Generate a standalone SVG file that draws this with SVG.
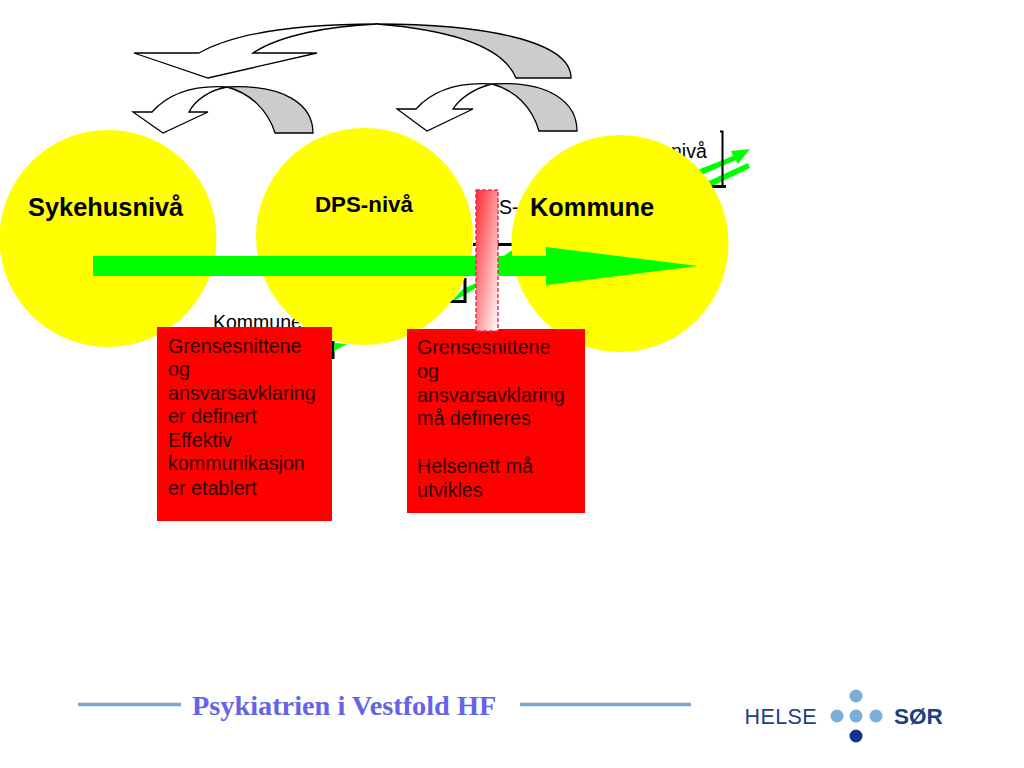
<svg xmlns="http://www.w3.org/2000/svg" width="1024" height="768" viewBox="0 0 1024 768">
<defs>
<linearGradient id="pillar" x1="0" y1="0" x2="1" y2="1"><stop offset="0" stop-color="#ff2a30"/><stop offset="1" stop-color="#ffffff"/></linearGradient>
</defs>
<style>
text{font-family:"Liberation Sans",Arial,sans-serif;fill:#000}
.circle{fill:#ff0}
.box{fill:#f00}
.white{fill:#fff;stroke:#000;stroke-width:1.300}
.grey{fill:#ccc;stroke:#000;stroke-width:1.300}
.green{fill:#0f0}
.title{font-size:25.400px;font-weight:bold}
.small{font-size:19.500px}
.body{font-size:19.700px;fill:#300}
.logo{fill:#7aaed6}
.bk{fill:none;stroke:#000;stroke-width:3}
</style>
<rect width="1024" height="768" fill="#fff"/>
<g id="connectors">
<path class="grey" d="M377 24C480 24 571 40 571 78H516C503 46 450 30 377 24Z"/>
<path class="white" d="M134 53H199C240 30 310 24 377 24C330 26 280 35 253 53H317L208 78Z"/>
<path class="grey" d="M227 87C285 84 313 105 313 133H275C268 110 250 93 227 87Z"/>
<path class="white" d="M133 112H152C170 92 195 85 227 87C210 90 195 100 189 112H208L163 133Z"/>
<path class="grey" d="M492 84C550 80 577 103 577 131H539C532 107 515 90 492 84Z"/>
<path class="white" d="M397 109H416C434 89 460 82 492 84C475 88 460 98 453 109H473L427 131Z"/>
</g>
<g id="hidden-labels">
<text class="small" x="671" y="158">nivå</text>
<path class="green" d="M690 173L733 156L731 151L750 149L738 164L736 160L692 179ZM700 185L748 163L750 168L704 190Z"/>
<path d="M720 131.500H722.500V186" fill="none" stroke="#000" stroke-width="2"/>
<path d="M708 186.500H726" class="bk"/>
<text class="small" x="486" y="214">PS-</text>
<path d="M473 244.500H514" class="bk"/>
<path class="green" d="M490 268L498 260L515 248V268ZM450 303L463 289L476 283V288L456 300Z"/>
<path d="M465 278V301.500H450" class="bk"/>
<text class="small" x="213" y="329">Kommune</text>
<path d="M333 341V359" class="bk"/>
<path class="green" d="M334 343L347 344L334 351Z"/>
</g>
<g id="node-sykehus"><circle class="circle" cx="108" cy="238.500" r="108.500"/><text class="title" x="28" y="216">Sykehusnivå</text></g>
<g id="node-dps"><circle class="circle" cx="364.500" cy="236.500" r="108.500"/><text x="315" y="212" style="font-size:22.300px;font-weight:bold">DPS-nivå</text></g>
<g id="node-kommune"><circle class="circle" cx="620" cy="243.500" r="108.500"/><text class="title" x="530" y="216">Kommune</text></g>
<g id="flow-arrow"><path class="green" d="M93 256H546V247L698 266L546 285V276H93Z"/></g>
<g id="box-left"><rect class="box" x="157" y="327" width="175" height="194"/>
<text class="body"><tspan x="168" y="353">Grensesnittene</tspan><tspan x="168" y="376">og</tspan><tspan x="168" y="400">ansvarsavklaring</tspan><tspan x="168" y="423">er definert</tspan><tspan x="168" y="447">Effektiv</tspan><tspan x="168" y="470">kommunikasjon</tspan><tspan x="168" y="495">er etablert</tspan></text></g>
<g id="box-right"><rect class="box" x="407" y="329" width="178" height="184"/>
<text class="body"><tspan x="417" y="354">Grensesnittene</tspan><tspan x="417" y="378">og</tspan><tspan x="417" y="402">ansvarsavklaring</tspan><tspan x="417" y="425">må defineres</tspan><tspan x="417" y="473">Helsenett må</tspan><tspan x="417" y="497">utvikles</tspan></text></g>
<g id="barrier"><rect x="476" y="190" width="22" height="141" fill="url(#pillar)" stroke="#e6305c" stroke-width="1.500" stroke-dasharray="4 2"/></g>
<g id="footer">
<path d="M78 704.500H181M520 704.500H691" stroke="#7ba8cc" stroke-width="3.500" fill="none"/>
<text x="192" y="715" style="font-family:'Liberation Serif',serif;font-size:28.300px;font-weight:bold;fill:#6464e8">Psykiatrien i Vestfold HF</text>
</g>
<g id="logo">
<text x="744.500" y="724" style="font-size:21.500px;fill:#1d3f7f;letter-spacing:.4px">HELSE</text>
<text x="894" y="724" style="font-size:22.500px;font-weight:bold;fill:#1d3f7f">SØR</text>
<circle class="logo" cx="856" cy="696" r="6.500"/><circle class="logo" cx="837" cy="716" r="6.500"/><circle class="logo" cx="856" cy="716" r="6.500"/><circle class="logo" cx="876" cy="716" r="6.500"/><circle cx="856" cy="736" r="6.500" fill="#12358f"/>
</g>
</svg>
